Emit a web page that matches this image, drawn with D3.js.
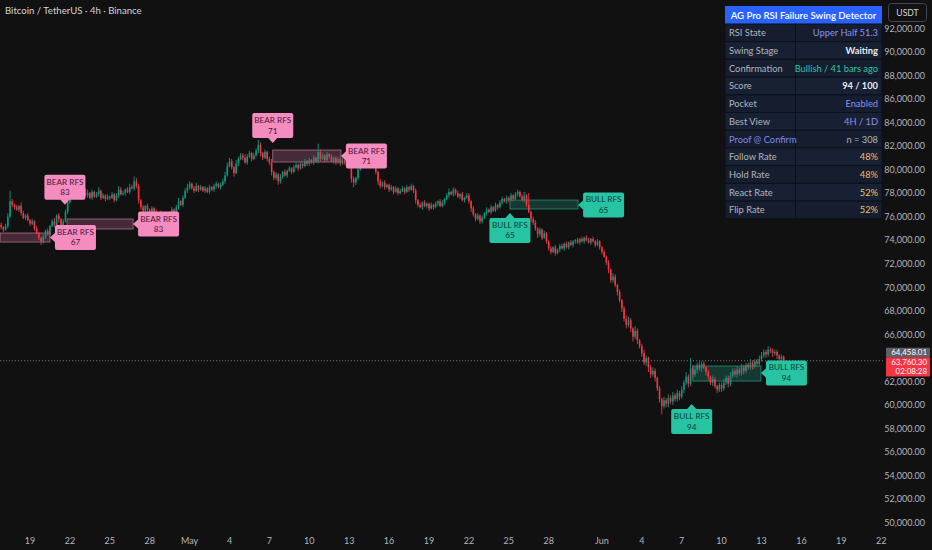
<!DOCTYPE html>
<html><head><meta charset="utf-8">
<script src="https://cdn.jsdelivr.net/npm/d3@7/dist/d3.min.js"></script>
<style>
html,body{margin:0;padding:0;background:#111111;}
svg{display:block;font-family:Lato,"Noto Sans",sans-serif;}
</style></head>
<body>
<svg id="chart" width="932" height="550"></svg>
<script>
// ---------------- DATA ----------------
const firstBarTime = Date.UTC(2024, 3, 16, 20); // first 4h candle
const firstOpenK = 75.3;
// 4h closes, thousands USD (Apr16 20:00 -> Jun14 16:00)
const closesK = [
75.1,
74.9,75.2,76.0,77.3,77.0,76.8,
76.6,76.9,76.3,75.9,76.1,75.7,
75.4,75.6,75.0,74.6,74.2,73.9,
74.3,74.8,74.5,75.2,75.6,75.3,
76.1,75.8,75.2,75.6,76.4,77.2,
77.9,78.5,78.9,78.3,78.6,77.9,
78.3,77.8,78.0,77.6,78.1,77.7,
77.9,78.2,77.6,77.8,77.5,77.7,
77.6,77.9,77.4,77.8,78.3,77.9,
78.0,78.3,78.1,78.5,78.4,79.0,
78.6,77.4,76.8,76.5,76.9,76.6,
76.3,76.7,76.4,76.0,76.3,75.9,
75.7,75.4,75.8,76.2,76.6,76.3,
76.8,77.3,77.0,77.6,78.2,78.5,
78.8,78.4,78.2,78.6,78.3,78.5,
78.2,78.4,78.1,78.5,78.3,78.6,
78.8,78.5,78.7,79.0,79.5,80.3,
80.7,80.2,79.7,80.5,80.9,81.2,
81.0,80.6,81.1,81.4,80.9,81.2,
81.6,82.1,81.4,81.0,81.5,80.9,
80.6,79.8,79.3,79.6,79.0,79.4,
79.8,79.5,79.9,80.1,79.8,80.2,
80.4,80.1,80.5,80.3,80.7,80.5,
80.8,80.6,81.0,80.7,81.5,80.9,
81.2,80.8,81.3,81.1,80.7,81.0,
80.6,80.9,80.5,80.8,80.6,80.9,
80.3,79.2,78.9,79.3,80.0,80.8,
81.3,80.8,80.5,80.9,80.6,80.2,
79.8,79.0,78.6,78.9,78.5,78.7,
78.3,78.5,78.1,78.4,78.0,78.2,
78.4,78.1,78.5,78.3,78.6,78.2,
77.4,77.0,76.8,77.2,76.9,77.1,
76.7,77.0,76.8,77.1,77.3,76.9,
77.2,77.5,77.8,78.1,77.9,78.3,
78.0,77.7,77.9,77.4,77.6,77.8,
77.3,76.7,76.2,75.8,76.1,75.6,
75.9,76.3,76.6,76.4,76.8,76.5,
77.0,76.8,77.2,77.5,77.3,77.6,
77.4,77.8,77.5,77.9,78.1,77.7,
77.4,77.8,77.0,76.4,75.8,75.5,
75.0,74.5,74.9,74.2,74.6,73.9,
73.3,73.0,73.4,72.9,73.2,73.5,
73.3,73.7,73.4,73.8,73.6,73.9,
74.0,73.8,74.1,73.9,74.2,74.0,
73.8,74.1,73.9,73.6,73.9,73.4,
73.0,72.6,72.1,71.5,70.6,70.9,
70.2,69.6,68.9,68.2,67.3,66.8,
67.2,66.5,65.8,66.3,65.5,65.0,
64.4,63.6,64.0,63.2,62.6,62.9,
62.3,61.4,60.5,59.9,60.4,60.1,
60.6,60.3,60.8,60.5,61.0,60.7,
61.3,61.9,62.4,61.8,63.1,62.6,
63.0,63.4,63.1,63.5,63.2,62.8,
62.4,61.9,62.2,61.6,61.3,61.7,
61.4,61.9,62.3,61.8,62.5,62.9,
62.6,63.0,62.7,63.2,62.9,63.4,
63.2,63.6,63.3,63.7,63.5,63.9,
64.2,64.5,64.3,64.7,64.6,64.4,
64.5,64.2,63.9,64.1,63.7603
];
// upper / lower wick lengths in $100 units
const wickUp = [
2,
1,2,3,9,2,1, 2,1,3,2,1,2, 1,2,1,2,1,1, 2,1,2,1,2,3, 1,2,1,2,2,3,
3,2,4,2,1,2, 2,1,3,1,2,1, 2,3,1,2,1,2, 1,2,1,2,3,2, 2,1,2,3,2,4,
3,2,1,2,1,2, 1,2,1,2,1,2, 2,1,2,1,2,1, 2,3,1,2,2,3, 2,1,2,3,1,2,
1,2,1,2,1,2, 2,1,2,2,3,3, 3,2,1,3,2,2, 2,3,2,2,1,2, 2,4,2,1,2,1,
2,3,1,2,1,2, 1,2,1,2,1,2, 2,1,2,1,2,1, 2,1,2,1,7,2, 2,1,2,1,2,1,
1,2,1,2,1,2, 2,1,2,1,3,4, 3,2,1,2,1,2, 2,1,2,1,2,1, 1,2,1,2,1,2,
2,1,2,1,2,1, 2,1,2,1,2,1, 1,2,1,2,1,2, 2,1,2,3,1,2, 1,2,1,2,1,2,
2,1,2,1,2,1, 2,1,2,1,2,1, 2,1,2,2,1,2, 1,2,1,2,2,1, 2,3,1,10,1,2,
2,1,2,1,2,1, 1,2,1,2,1,2, 2,1,2,1,2,1, 1,2,1,2,1,2, 2,1,2,1,2,1,
1,2,1,2,1,3, 2,1,2,1,2,3, 3,2,1,4,2,1, 2,3,2,1,2,3, 2,1,2,1,3,2,
3,2,3,2,3,2, 3,2,4,2,9,3, 3,2,3,2,2,1, 2,1,3,2,1,2, 2,3,2,2,3,2,
2,3,2,3,2,2, 2,3,2,2,2,3, 3,2,2,3,2,2, 2,2,1,2,1
];
const wickDown = [
2,
2,1,2,1,2,2, 1,2,2,1,2,1, 2,1,2,1,2,3, 2,2,1,2,1,2, 2,3,1,2,1,2,
1,2,1,3,2,2, 2,1,2,1,2,1, 1,2,2,1,2,1, 2,1,2,1,2,1, 1,2,1,2,1,2,
2,3,2,2,1,2, 2,1,2,1,2,1, 2,4,1,2,1,2, 1,2,1,2,1,2, 2,1,2,1,2,1,
1,2,1,2,1,2, 2,1,2,1,2,1, 1,2,3,1,2,1, 2,1,2,1,2,1, 1,2,3,2,1,2,
2,3,2,2,3,2, 2,1,2,1,2,1, 1,2,1,2,1,2, 2,1,2,1,2,2, 1,2,1,2,1,2,
2,1,2,1,2,1, 2,3,4,2,2,1, 2,1,2,1,2,1, 2,3,2,1,2,1, 2,1,2,1,2,1,
1,2,1,2,1,2, 3,2,1,2,1,2, 2,1,2,1,2,1, 1,2,1,2,1,2, 2,1,2,1,2,1,
2,3,2,2,1,2, 2,1,2,1,2,1, 1,2,1,2,1,2, 2,1,2,1,2,1, 1,2,2,1,3,2,
2,3,2,2,1,2, 2,2,1,2,1,2, 1,2,1,2,1,2, 2,1,2,1,2,1, 1,2,1,2,1,2,
2,1,2,3,2,2, 2,3,2,3,2,3, 2,3,4,2,3,2, 3,2,3,4,3,2, 3,2,3,7,2,3,
3,2,3,2,2,3, 2,3,2,3,2,3, 2,3,2,3,2,3, 3,2,3,2,3,2, 3,2,2,3,2,2,
2,3,2,2,3,2, 2,2,3,2,2,2, 2,2,3,2,2,3, 2,3,2,2,2
];

// signal zones: kind, start, end, top (USD), bottom (USD)
const zoneKinds  = ['bear','bear','bear','bull','bull'];
const zoneStarts = ['2024-04-16T18:00Z','2024-04-21T19:00Z','2024-05-07T06:00Z','2024-05-25T02:00Z','2024-06-07T20:00Z'];
const zoneEnds   = ['2024-04-20T12:00Z','2024-04-26T18:00Z','2024-05-12T09:00Z','2024-05-30T05:00Z','2024-06-12T23:00Z'];
const zoneTops   = [74610, 75800, 81660, 77410, 63310];
const zoneBottoms= [73840, 74950, 80640, 76650, 62030];

// signal labels
const labelKinds  = ['bear','bear','bear','bear','bear','bull','bull','bull','bull'];
const labelScores = [83, 67, 83, 71, 71, 65, 65, 94, 94];
const labelTimes  = ['2024-04-21T15:00Z','2024-04-20T12:00Z','2024-04-26T18:00Z','2024-05-07T06:00Z','2024-05-12T09:00Z',
                     '2024-05-25T02:00Z','2024-05-30T05:00Z','2024-06-07T18:00Z','2024-06-12T23:00Z'];
const labelPrices = [77000, 74230, 75370, 82250, 81150, 76310, 76990, 60080, 62720];
const labelPoints = ['down','left','left','down','left','up','left','up','left'];

// axes
const yTicks = [50000,52000,54000,56000,58000,60000,62000,64000,66000,68000,70000,72000,74000,76000,78000,80000,82000,84000,86000,88000,90000,92000];
const xTickDates = ['2024-04-19','2024-04-22','2024-04-25','2024-04-28','2024-05-01','2024-05-04','2024-05-07','2024-05-10','2024-05-13','2024-05-16','2024-05-19',
                    '2024-05-22','2024-05-25','2024-05-28','2024-06-01','2024-06-04','2024-06-07','2024-06-10','2024-06-13','2024-06-16','2024-06-19','2024-06-22'];
const xTickLabels = ['19','22','25','28','May','4','7','10','13','16','19','22','25','28','Jun','4','7','10','13','16','19','22'];

// info table
const tableTitle = 'AG Pro RSI Failure Swing Detector';
const tableKeys = ['RSI State','Swing Stage','Confirmation','Score','Pocket','Best View','Proof @ Confirm','Follow Rate','Hold Rate','React Rate','Flip Rate'];
const tableVals = ['Upper Half 51.3','Waiting','Bullish / 41 bars ago','94 / 100','Enabled','4H / 1D','n = 308','48%','48%','52%','52%'];

const markPrice = 64458.01;
const lastPrice = 63760.30;
const countdown = '02:08:28';
const title = 'Bitcoin / TetherUS · 4h · Binance';

// ---------------- DRAW ----------------
const W = 932, H = 550, plotRight = 885, plotBottom = 530;
const svg = d3.select('#chart');
svg.append('rect').attr('width', W).attr('height', H).attr('fill', '#111111');

const x = d3.scaleUtc().domain([new Date(Date.UTC(2024,3,19)), new Date(Date.UTC(2024,5,22))]).range([30, 881.2]);
const y = d3.scaleLinear().domain([50000, 92000]).range([522.7, 28.3]);

const UP = '#089981', DOWN = '#f23645';
const BEAR = '#f48cc0', BULL = '#26c4a2';

svg.append('clipPath').attr('id','plotClip').append('rect').attr('x',0).attr('y',0).attr('width',plotRight).attr('height',plotBottom);
const plot = svg.append('g').attr('clip-path','url(#plotClip)');

// build candles
const H4 = 4*3600*1000;
const candles = closesK.map((c, i) => {
  const o = i === 0 ? firstOpenK : closesK[i-1];
  return {
    t: new Date(firstBarTime + i*H4),
    o: o*1000, c: c*1000,
    h: (Math.max(o, c) + wickUp[i]*0.1)*1000,
    l: (Math.min(o, c) - wickDown[i]*0.1)*1000
  };
});
const step = x(new Date(firstBarTime + H4)) - x(new Date(firstBarTime));
const bodyW = Math.max(1, step*0.72);

// zones
const zones = zoneKinds.map((k,i)=>({k, s:new Date(zoneStarts[i]), e:new Date(zoneEnds[i]), top:zoneTops[i], bot:zoneBottoms[i]}));
plot.selectAll('rect.zone').data(zones).join('rect').attr('class','zone')
  .attr('x', d=>x(d.s)).attr('width', d=>x(d.e)-x(d.s))
  .attr('y', d=>y(d.top)).attr('height', d=>y(d.bot)-y(d.top))
  .attr('fill', d=>d.k==='bear' ? 'rgba(244,140,192,0.22)' : 'rgba(38,196,162,0.22)')
  .attr('stroke', d=>d.k==='bear' ? 'rgba(244,140,192,0.55)' : 'rgba(38,196,162,0.55)')
  .attr('stroke-width', 1);

// last price dotted line
plot.append('line').attr('x1',0).attr('x2',plotRight).attr('y1',y(lastPrice)).attr('y2',y(lastPrice))
  .attr('stroke','#7a7a7a').attr('stroke-width',1).attr('stroke-dasharray','1,2');

// candles
const cg = plot.append('g');
cg.selectAll('line').data(candles).join('line')
  .attr('x1', d=>x(d.t)).attr('x2', d=>x(d.t))
  .attr('y1', d=>y(d.h)).attr('y2', d=>y(d.l))
  .attr('stroke', d=>d.c>=d.o?UP:DOWN).attr('stroke-width',0.9);
cg.selectAll('rect').data(candles).join('rect')
  .attr('x', d=>x(d.t)-bodyW/2).attr('width', bodyW)
  .attr('y', d=>y(Math.max(d.o,d.c))).attr('height', d=>Math.max(0.8, Math.abs(y(d.o)-y(d.c))))
  .attr('fill', d=>d.c>=d.o?UP:DOWN);

// labels
const BW = 41, BH = 25, PT = 5;
const labels = labelKinds.map((k,i)=>({k, score:labelScores[i], t:new Date(labelTimes[i]), p:labelPrices[i], dir:labelPoints[i]}));
const lg = svg.append('g');
labels.forEach(d=>{
  const tx = x(d.t), ty = y(d.p);
  let bx, by, tri;
  if (d.dir==='down'){ bx = tx-BW/2; by = ty-PT-BH; tri = [[tx-5,ty-PT-0.5],[tx+5,ty-PT-0.5],[tx,ty]]; }
  else if (d.dir==='up'){ bx = tx-BW/2; by = ty+PT; tri = [[tx-5,ty+PT+0.5],[tx+5,ty+PT+0.5],[tx,ty]]; }
  else { bx = tx+PT; by = ty-BH/2; tri = [[tx+PT+0.5,ty-5],[tx+PT+0.5,ty+5],[tx,ty]]; }
  const fill = d.k==='bear'?BEAR:BULL;
  const tcol = d.k==='bear'?'#4a1535':'#0d3d33';
  const g = lg.append('g');
  g.append('rect').attr('x',bx).attr('y',by).attr('width',BW).attr('height',BH).attr('rx',2).attr('fill',fill);
  g.append('path').attr('d', d3.line()(tri)+'Z').attr('fill',fill);
  g.append('text').attr('x',bx+BW/2).attr('y',by+10).attr('text-anchor','middle')
    .attr('font-size',8.2).attr('fill',tcol).text(d.k==='bear'?'BEAR RFS':'BULL RFS');
  g.append('text').attr('x',bx+BW/2).attr('y',by+20.5).attr('text-anchor','middle')
    .attr('font-size',8.2).attr('fill',tcol).text(d.score);
});

// title
svg.append('text').attr('x',5).attr('y',14).attr('font-size',9.6).attr('fill','#d1d4dc').text(title);

// price tag geometry (tick labels under the tags are hidden, as on the reference)
const ym = y(markPrice);
const tagTop = ym-4.8, tagBottom = ym+24;

// y axis labels
const fmt = d3.format(',.2f');
svg.append('g').selectAll('text').data(yTicks.filter(v=>y(v) < tagTop-4 || y(v) > tagBottom+4)).join('text')
  .attr('x', 925).attr('y', d=>y(d)+3.3).attr('text-anchor','end')
  .attr('font-size',9).attr('fill','#b2b5be').text(d=>fmt(d));

// x axis labels
svg.append('g').selectAll('text').data(xTickDates).join('text')
  .attr('x', d=>x(new Date(d+'T00:00Z'))).attr('y', 544).attr('text-anchor','middle')
  .attr('font-size',9).attr('fill','#b2b5be').text((d,i)=>xTickLabels[i]);

// USDT box
svg.append('rect').attr('x',888.5).attr('y',3.5).attr('width',38).attr('height',18).attr('rx',3)
  .attr('fill','#111111').attr('stroke','#434651');
svg.append('text').attr('x',907.5).attr('y',15.8).attr('text-anchor','middle').attr('font-size',8.6)
  .attr('fill','#d1d4dc').text('USDT');

// price tags
svg.append('rect').attr('x',886).attr('y',tagTop).attr('width',44).attr('height',9.6).attr('rx',1).attr('fill','#5d606b');
svg.append('text').attr('x',927).attr('y',ym+2.9).attr('text-anchor','end').attr('font-size',7.9).attr('fill','#ffffff').text(fmt(markPrice));
svg.append('rect').attr('x',886).attr('y',ym+4.8).attr('width',44).attr('height',19.2).attr('rx',1).attr('fill',DOWN);
svg.append('text').attr('x',927).attr('y',ym+12.4).attr('text-anchor','end').attr('font-size',7.9).attr('fill','#ffffff').text(fmt(lastPrice));
svg.append('text').attr('x',927).attr('y',ym+21.9).attr('text-anchor','end').attr('font-size',7.9).attr('fill','#ffffff').text(countdown);

// info table
const TX = 725, TW = 157, TC = 795.5, TY = 6, HH = 18, RH = 17.7;
const tg = svg.append('g');
tg.append('rect').attr('x',TX).attr('y',TY).attr('width',TW).attr('height',HH).attr('fill','#2962ff');
tg.append('text').attr('x',TX+TW/2).attr('y',TY+12.6).attr('text-anchor','middle').attr('font-size',9.6)
  .attr('fill','#ffffff').attr('font-weight',600).text(tableTitle);
const valColors = ['#8c90ee','#e8e9ee','#2bc7a3','#e8e9ee','#8c90ee','#8c90ee','#b2b5be','#f5b56c','#f5b56c','#f3c25e','#f3c25e'];
const valWeights = [400,700,400,700,400,400,400,400,400,400,400];
tableKeys.forEach((k,i)=>{
  const ry = TY+HH+i*RH;
  tg.append('rect').attr('x',TX).attr('y',ry).attr('width',TC-TX).attr('height',RH)
    .attr('fill', i%2? '#182133':'#151d2e').attr('stroke','#0c111c').attr('stroke-width',1);
  tg.append('rect').attr('x',TC).attr('y',ry).attr('width',TX+TW-TC).attr('height',RH)
    .attr('fill', i%2? '#182133':'#151d2e').attr('stroke','#0c111c').attr('stroke-width',1);
  tg.append('text').attr('x',TX+4).attr('y',ry+12.3).attr('font-size',9.3)
    .attr('fill', k.startsWith('Proof') ? '#7f8af0' : '#b2b5be').text(k);
  tg.append('text').attr('x',TX+TW-4).attr('y',ry+12.3).attr('text-anchor','end').attr('font-size',9.3)
    .attr('font-weight',valWeights[i]).attr('fill',valColors[i]).text(tableVals[i]);
});
</script>
</body></html>
